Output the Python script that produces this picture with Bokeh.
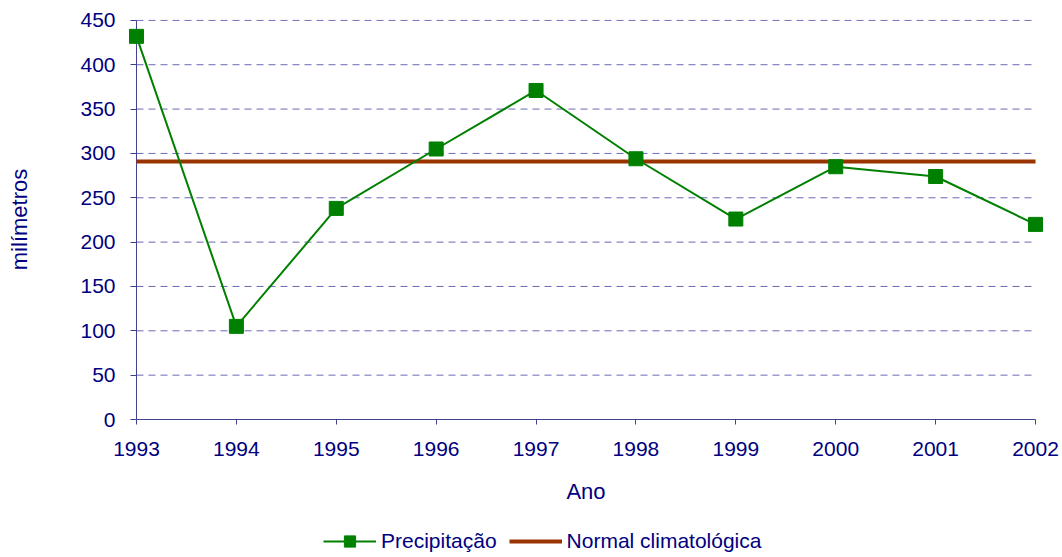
from bokeh.plotting import figure
from bokeh.layouts import column
from bokeh.models import Legend, LegendItem, Range1d, FixedTicker
from bokeh.embed import file_html
from bokeh.resources import INLINE

# ---- data ----
anos = [1993, 1994, 1995, 1996, 1997, 1998, 1999, 2000, 2001, 2002]
precipitacao = [432, 105, 238, 305, 371, 294, 226, 285, 274, 220]
normal_anos = [1993, 2002]
normal_valores = [291, 291]
y_ticks = [0, 50, 100, 150, 200, 250, 300, 350, 400, 450]

FONT = "Liberation Sans"
NAVY = "#000080"
AXIS = "#404090"
GRID = "#6a6ab4"
GREEN = "#008000"
BROWN = "#993300"

p = figure(width=1062, height=513,
           x_range=Range1d(1992.91, 2002.09), y_range=Range1d(0, 451),
           min_border_left=127, min_border_right=18,
           min_border_top=19, min_border_bottom=94,
           toolbar_location=None, output_backend="svg",
           outline_line_color=None, background_fill_color="white")

# grid lines drawn between first and last year (like the original)
p.xgrid.visible = False
p.ygrid.visible = False
gy = y_ticks[1:]
p.segment(x0=[anos[0]] * len(gy), x1=[anos[-1]] * len(gy), y0=gy, y1=gy,
          line_color=GRID, line_dash="7 5", line_width=1)

# y axis line at the first year
p.segment(x0=[anos[0]], x1=[anos[0]], y0=[y_ticks[0]], y1=[y_ticks[-1]],
          line_color=AXIS, line_width=1)

# y axis (ticks/labels)
p.yaxis.ticker = FixedTicker(ticks=y_ticks)
p.yaxis.axis_line_color = None
p.yaxis.major_tick_line_color = AXIS
p.yaxis.major_tick_in = 9
p.yaxis.major_tick_out = -3
p.yaxis.minor_tick_line_color = None
p.yaxis.major_label_text_font = FONT
p.yaxis.major_label_text_font_size = "21px"
p.yaxis.major_label_text_color = NAVY
p.yaxis.major_label_standoff = 12
p.yaxis.axis_label = "milímetros"
p.yaxis.axis_label_text_font = FONT
p.yaxis.axis_label_text_font_size = "22px"
p.yaxis.axis_label_text_font_style = "normal"
p.yaxis.axis_label_text_color = NAVY
p.yaxis.axis_label_standoff = 45

# x axis
p.xaxis.ticker = FixedTicker(ticks=anos)
p.xaxis.bounds = (anos[0], anos[-1])
p.xaxis.axis_line_color = AXIS
p.xaxis.major_tick_line_color = AXIS
p.xaxis.major_tick_in = 0
p.xaxis.major_tick_out = 5
p.xaxis.minor_tick_line_color = None
p.xaxis.major_label_text_font = FONT
p.xaxis.major_label_text_font_size = "21px"
p.xaxis.major_label_text_color = NAVY
p.xaxis.major_label_standoff = 17
p.xaxis.axis_label = "Ano"
p.xaxis.axis_label_text_font = FONT
p.xaxis.axis_label_text_font_size = "22px"
p.xaxis.axis_label_text_font_style = "normal"
p.xaxis.axis_label_text_color = NAVY
p.xaxis.axis_label_standoff = 20

# series
p.line(normal_anos, normal_valores, line_color=BROWN, line_width=4)
p.line(anos, precipitacao, line_color=GREEN, line_width=2)
p.scatter(anos, precipitacao, marker="square", size=14,
          fill_color=GREEN, line_color=GREEN)

# ---- legend strip (second figure, same series styles; data lies outside its view) ----
leg = figure(width=1062, height=44, x_range=Range1d(0, 1), y_range=Range1d(0, 1),
             min_border_left=0, min_border_right=0, min_border_top=0, min_border_bottom=0,
             x_axis_type=None, y_axis_type=None,
             toolbar_location=None, output_backend="svg",
             outline_line_color=None, background_fill_color="white")
leg.xgrid.visible = False
leg.ygrid.visible = False
l_norm = leg.line(normal_anos, normal_valores, line_color=BROWN, line_width=4)
l_line = leg.line(anos, precipitacao, line_color=GREEN, line_width=2)
l_pts = leg.scatter(anos, precipitacao, marker="square", size=14,
                    fill_color=GREEN, line_color=GREEN)

legend = Legend(items=[LegendItem(label="Precipitação", renderers=[l_line, l_pts]),
                       LegendItem(label="Normal climatológica", renderers=[l_norm])],
                location=(196, 2), orientation="horizontal",
                border_line_color=None, background_fill_alpha=0,
                padding=0, margin=0, spacing=12,
                glyph_width=53, glyph_height=28, label_standoff=5,
                label_text_font=FONT, label_text_font_size="21px",
                label_text_color=NAVY)
leg.add_layout(legend)

page = column(p, leg, spacing=0)
open("out.html", "w").write(file_html(page, INLINE))
